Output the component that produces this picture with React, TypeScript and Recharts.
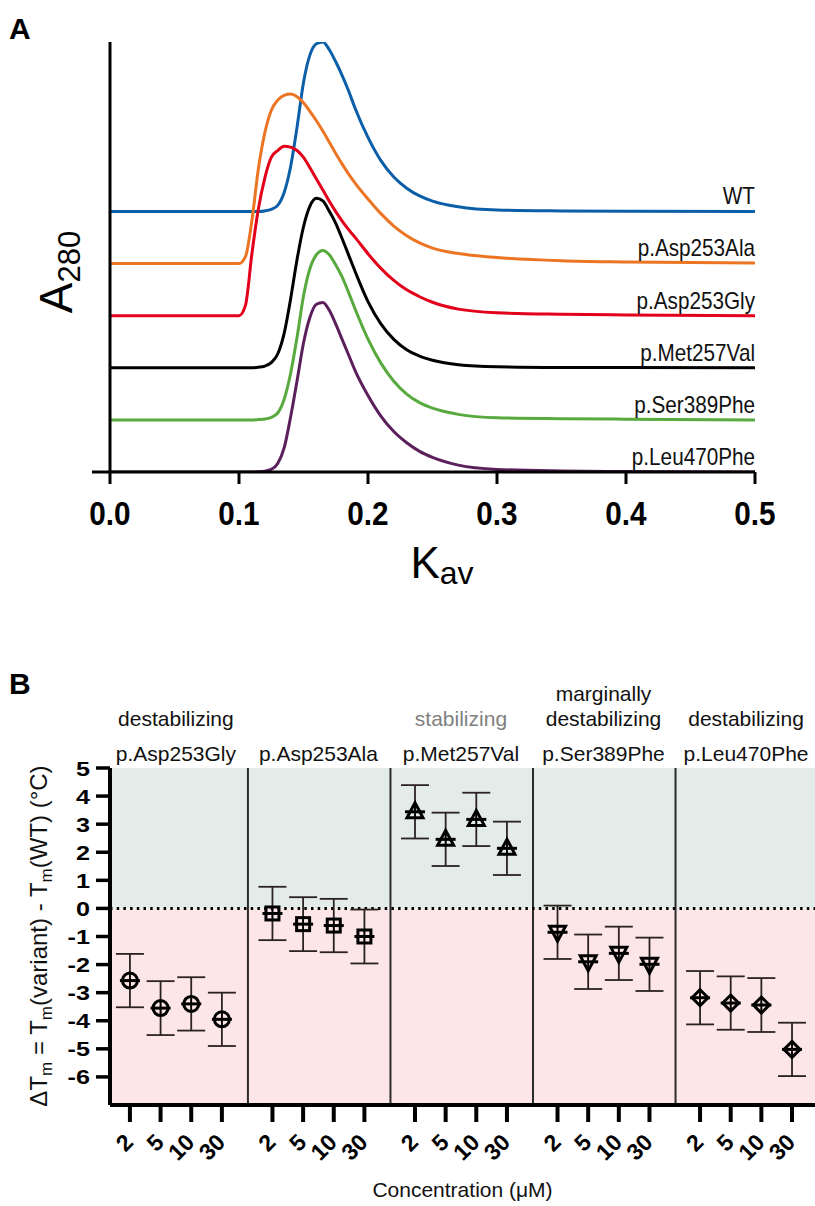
import React from "react";
import {
  LineChart,
  Line,
  XAxis,
  YAxis,
  ScatterChart,
  Scatter,
  ErrorBar,
  ReferenceArea,
  ReferenceLine,
  Label,
} from "recharts";

const FONT = "'Liberation Sans', Arial, Helvetica, sans-serif";

// ---------------- Panel A data (normalised A280 traces vs Kav) ----------------
const kavValues = [
  0, 0.05, 0.1, 0.105, 0.11, 0.115, 0.12, 0.125, 0.13, 0.135, 0.14, 0.145, 0.15,
  0.155, 0.16, 0.165, 0.17, 0.175, 0.18, 0.185, 0.19, 0.2, 0.21, 0.22, 0.23, 0.24,
  0.25, 0.27, 0.3, 0.35, 0.4, 0.5,
];
const wtTrace = [
  0, 0, 0, 0, 0, 0, 0.003, 0.012, 0.035, 0.11, 0.26, 0.49, 0.75, 0.91, 0.975, 0.985,
  0.94, 0.87, 0.79, 0.7, 0.6, 0.43, 0.295, 0.2, 0.135, 0.09, 0.06, 0.027, 0.008,
  0.003, 0.001, 0,
];
const asp253AlaTrace = [
  0, 0, 0, 0.04, 0.25, 0.55, 0.76, 0.89, 0.95, 0.978, 0.985, 0.97, 0.935, 0.885,
  0.83, 0.77, 0.705, 0.64, 0.578, 0.52, 0.468, 0.375, 0.29, 0.218, 0.162, 0.12, 0.09,
  0.058, 0.035, 0.016, 0.009, 0.003,
];
const asp253GlyTrace = [
  0, 0, 0, 0.06, 0.36, 0.62, 0.8, 0.92, 0.96, 0.985, 0.98, 0.96, 0.92, 0.86, 0.795,
  0.73, 0.665, 0.605, 0.55, 0.5, 0.455, 0.36, 0.275, 0.205, 0.15, 0.11, 0.078, 0.038,
  0.017, 0.008, 0.004, 0,
];
const met257ValTrace = [
  0, 0, 0, 0, 0, 0.003, 0.01, 0.03, 0.08, 0.2, 0.4, 0.63, 0.82, 0.94, 0.985, 0.97,
  0.91, 0.84, 0.75, 0.655, 0.56, 0.385, 0.255, 0.165, 0.105, 0.068, 0.044, 0.018,
  0.006, 0.002, 0.001, 0,
];
const ser389PheTrace = [
  0, 0, 0, 0, 0, 0.002, 0.005, 0.015, 0.04, 0.12, 0.27, 0.48, 0.72, 0.88, 0.96,
  0.985, 0.96, 0.9, 0.83, 0.74, 0.645, 0.47, 0.33, 0.225, 0.15, 0.1, 0.068, 0.032,
  0.012, 0.007, 0.004, 0,
];
const leu470PheTrace = [
  0, 0, 0, 0, 0, 0.002, 0.005, 0.015, 0.05, 0.14, 0.32, 0.53, 0.75, 0.9, 0.975,
  0.985, 0.94, 0.86, 0.77, 0.68, 0.59, 0.445, 0.325, 0.235, 0.17, 0.12, 0.085, 0.04,
  0.015, 0.006, 0.003, 0,
];
const traceNames = [
  "WT",
  "p.Asp253Ala",
  "p.Asp253Gly",
  "p.Met257Val",
  "p.Ser389Phe",
  "p.Leu470Phe",
];
const traceColors = ["#0b5ea8", "#ec7524", "#e2001a", "#000000", "#58aa3e", "#5b1f5c"];
const traceOffsets = [1.515, 1.212, 0.909, 0.606, 0.303, 0];
const kavTicks = [0, 0.1, 0.2, 0.3, 0.4, 0.5];

const traces = [
  wtTrace,
  asp253AlaTrace,
  asp253GlyTrace,
  met257ValTrace,
  ser389PheTrace,
  leu470PheTrace,
];

const chartAData = kavValues.map((k, i) => {
  const row: Record<string, number> = { kav: k };
  traces.forEach((t, j) => {
    row["s" + j] = t[i] + traceOffsets[j];
  });
  return row;
});

// ---------------- Panel B data (ΔTm vs concentration) ----------------
const variantNames = [
  "p.Asp253Gly",
  "p.Asp253Ala",
  "p.Met257Val",
  "p.Ser389Phe",
  "p.Leu470Phe",
];
const effectLabels = [
  ["destabilizing"],
  [],
  ["stabilizing"],
  ["marginally", "destabilizing"],
  ["destabilizing"],
];
const concentrationLabels = ["2", "5", "10", "30"];
const asp253GlyMean = [-2.57, -3.55, -3.4, -3.95];
const asp253GlyErr = [0.95, 0.96, 0.95, 0.95];
const asp253AlaMean = [-0.18, -0.56, -0.61, -1.0];
const asp253AlaErr = [0.95, 0.96, 0.95, 0.96];
const met257ValMean = [3.44, 2.46, 3.17, 2.14];
const met257ValErr = [0.95, 0.95, 0.95, 0.95];
const ser389PheMean = [-0.85, -1.9, -1.6, -1.99];
const ser389PheErr = [0.95, 0.97, 0.95, 0.95];
const leu470PheMean = [-3.18, -3.37, -3.44, -5.02];
const leu470PheErr = [0.95, 0.95, 0.96, 0.95];
const dTmTicks = [5, 4, 3, 2, 1, 0, -1, -2, -3, -4, -5, -6];

const groupMeans = [asp253GlyMean, asp253AlaMean, met257ValMean, ser389PheMean, leu470PheMean];
const groupErrs = [asp253GlyErr, asp253AlaErr, met257ValErr, ser389PheErr, leu470PheErr];
const markerKinds = ["circle", "square", "up", "down", "diamond"];

// layout of the grouped categorical x axis (in units of one concentration slot)
const GROUP_SPAN = 4.65;
const FIRST_SLOT = 0.65;
const X_MAX = 23;

const groupData = groupMeans.map((means, gi) =>
  means.map((m, ci) => ({
    x: gi * GROUP_SPAN + FIRST_SLOT + ci,
    y: m,
    err: groupErrs[gi][ci],
  }))
);
const bottomTicks = groupData.flat().map((d) => d.x);
const groupCenters = variantNames.map((_, gi) => gi * GROUP_SPAN + FIRST_SLOT + 1.5);
const dividers = variantNames.slice(1).map((_, i) => (i + 1) * GROUP_SPAN - 0.15);

// ---------------- sizes ----------------
const A_W = 815;
const A_H = 600;
const A_PLOT_BOTTOM = 472;
const B_W = 815;
const B_H = 606;
const B_PLOT_TOP = 168;
const B_PLOT_BOTTOM = 505;

const Marker = (props: any) => {
  const { cx, cy, kind } = props;
  if (cx == null || cy == null) return <g />;
  const s = { stroke: "#000", strokeWidth: 3, fill: "none" };
  let body: React.ReactNode = null;
  if (kind === "circle") body = <circle cx={cx} cy={cy} r={7.5} {...s} />;
  else if (kind === "square")
    body = <rect x={cx - 6.5} y={cy - 6.5} width={13} height={13} {...s} />;
  else if (kind === "up")
    body = (
      <polygon points={`${cx},${cy - 9} ${cx + 8},${cy + 6} ${cx - 8},${cy + 6}`} {...s} />
    );
  else if (kind === "down")
    body = (
      <polygon points={`${cx},${cy + 9} ${cx + 8},${cy - 6} ${cx - 8},${cy - 6}`} {...s} />
    );
  else
    body = (
      <polygon
        points={`${cx},${cy - 8} ${cx + 8},${cy} ${cx},${cy + 8} ${cx - 8},${cy}`}
        {...s}
      />
    );
  return (
    <g>
      {body}
      <line x1={cx - 10} x2={cx + 10} y1={cy} y2={cy} stroke="#000" strokeWidth={3} />
      <line x1={cx} x2={cx} y1={cy - 7} y2={cy + 7} stroke="#000" strokeWidth={1.6} />
    </g>
  );
};

const GroupLabel = (props: any) => {
  const { viewBox, gi } = props;
  const x = viewBox ? viewBox.x : 0;
  const effects = effectLabels[gi] || [];
  return (
    <g>
      {effects.map((t, k) => (
        <text
          key={k}
          x={x}
          y={B_PLOT_TOP - 42 - (effects.length - 1 - k) * 25}
          textAnchor="middle"
          fontSize={21}
          fontFamily={FONT}
          fill={t === "stabilizing" ? "#808080" : "#111"}
        >
          {t}
        </text>
      ))}
      <text
        x={x}
        y={B_PLOT_TOP - 7}
        textAnchor="middle"
        fontSize={21}
        fontFamily={FONT}
        fill="#111"
      >
        {variantNames[gi]}
      </text>
    </g>
  );
};

const KavTick = (props: any) => {
  const { x, payload } = props;
  const y = A_PLOT_BOTTOM + 53;
  return (
    <text
      transform={`translate(${x}, ${y}) scale(0.9, 1)`}
      textAnchor="middle"
      fontSize={33}
      fontWeight="bold"
      fontFamily={FONT}
      fill="#000"
    >
      {Number(payload.value).toFixed(1)}
    </text>
  );
};

const DTmTick = (props: any) => {
  const { x, y, payload } = props;
  return (
    <text
      transform={`translate(${x}, ${y}) scale(1.2, 1)`}
      textAnchor="end"
      dy="0.36em"
      fontSize={21}
      fontWeight="bold"
      fontFamily={FONT}
      fill="#000"
    >
      {payload.value}
    </text>
  );
};

const ConcTick = (props: any) => {
  const { x, index } = props;
  const label = concentrationLabels[index % concentrationLabels.length];
  const ax = x - 1;
  const ay = B_PLOT_BOTTOM + 33;
  return (
    <text
      x={ax}
      y={ay}
      transform={`rotate(-45, ${ax}, ${ay})`}
      textAnchor="end"
      dominantBaseline="central"
      fontSize={23}
      fontWeight="bold"
      fontFamily={FONT}
      fill="#000"
    >
      {label}
    </text>
  );
};

const ChartA = () => (
  <LineChart
    width={A_W}
    height={A_H}
    data={chartAData}
    margin={{ top: 42, right: 60, bottom: 0, left: 0 }}
  >
    <XAxis
      dataKey="kav"
      type="number"
      domain={[0, 0.5]}
      ticks={kavTicks}
      interval={0}
      height={A_H - 42 - (A_PLOT_BOTTOM - 42)}
      tickSize={12}
      axisLine={{ stroke: "#000", strokeWidth: 3 }}
      tickLine={{ stroke: "#000", strokeWidth: 3 }}
      tick={<KavTick />}
    >
      <Label
        content={() => (
          <text x={442} y={578} textAnchor="middle" fontFamily={FONT} fill="#000">
            <tspan fontSize={44}>K</tspan>
            <tspan fontSize={32} dy={6}>
              av
            </tspan>
          </text>
        )}
      />
    </XAxis>
    <YAxis
      type="number"
      domain={[0, 2.5]}
      allowDataOverflow
      width={110}
      tick={false}
      tickLine={false}
      axisLine={{ stroke: "#000", strokeWidth: 3 }}
    >
      <Label
        content={() => (
          <text
            x={72}
            y={272}
            transform="rotate(-90, 72, 272)"
            textAnchor="middle"
            fontFamily={FONT}
            fill="#000"
          >
            <tspan fontSize={46}>A</tspan>
            <tspan fontSize={31} dy={8}>
              280
            </tspan>
          </text>
        )}
      />
    </YAxis>
    <ReferenceLine
      segment={[
        { x: -0.014, y: 0 },
        { x: 0, y: 0 },
      ]}
      stroke="#000"
      strokeWidth={3}
      ifOverflow="visible"
    />
    {traceNames.map((name, j) => (
      <Line
        key={name}
        dataKey={"s" + j}
        type="monotone"
        stroke={traceColors[j]}
        strokeWidth={3}
        dot={false}
        isAnimationActive={false}
        label={(p: any) =>
          p.index === kavValues.length - 1 ? (
            <text
              key={"lab" + j}
              transform={`translate(${p.x}, ${p.y - 7}) scale(0.9, 1)`}
              textAnchor="end"
              fontSize={23}
              fontFamily={FONT}
              fill="#111"
            >
              {name}
            </text>
          ) : (
            <g key={"e" + j + "_" + p.index} />
          )
        }
      />
    ))}
  </LineChart>
);

const ChartB = () => (
  <ScatterChart
    width={B_W}
    height={B_H}
    margin={{ top: B_PLOT_TOP, right: 0, bottom: 0, left: 0 }}
  >
    <XAxis
      dataKey="x"
      type="number"
      domain={[0, X_MAX]}
      ticks={bottomTicks}
      interval={0}
      height={B_H - B_PLOT_BOTTOM}
      tickSize={17}
      axisLine={{ stroke: "#000", strokeWidth: 4 }}
      tickLine={{ stroke: "#000", strokeWidth: 4 }}
      tick={<ConcTick />}
    >
      <Label
        content={() => (
          <text
            x={462.5}
            y={597}
            textAnchor="middle"
            fontSize={21}
            fontFamily={FONT}
            fill="#111"
          >
            Concentration (μM)
          </text>
        )}
      />
    </XAxis>
    <YAxis
      dataKey="y"
      type="number"
      domain={[-7, 5]}
      ticks={dTmTicks}
      interval={0}
      width={110}
      tickSize={14}
      tickMargin={6}
      axisLine={{ stroke: "#000", strokeWidth: 4 }}
      tickLine={{ stroke: "#000", strokeWidth: 3.5 }}
      tick={<DTmTick />}
    >
      <Label
        content={() => (
          <text
            x={47}
            y={336}
            transform="rotate(-90, 47, 336)"
            textAnchor="middle"
            fontSize={24}
            fontFamily={FONT}
            fill="#111"
          >
            <tspan>ΔT</tspan>
            <tspan fontSize={17} dy={5}>
              m
            </tspan>
            <tspan dy={-5}> = T</tspan>
            <tspan fontSize={17} dy={5}>
              m
            </tspan>
            <tspan dy={-5}>(variant) - T</tspan>
            <tspan fontSize={17} dy={5}>
              m
            </tspan>
            <tspan dy={-5}>(WT) (°C)</tspan>
          </text>
        )}
      />
    </YAxis>
    <ReferenceArea y1={0} y2={5} fill="#e3ece9" fillOpacity={1} stroke="none" />
    <ReferenceArea y1={-7} y2={0} fill="#fde6e7" fillOpacity={1} stroke="none" />
    {dividers.map((d) => (
      <ReferenceLine key={d} x={d} stroke="#2b2b2b" strokeWidth={2} />
    ))}
    {groupCenters.map((c, gi) => (
      <ReferenceLine
        key={"g" + gi}
        x={c}
        stroke="none"
        strokeWidth={0}
        label={(p: any) => <GroupLabel {...p} gi={gi} />}
      />
    ))}
    <ReferenceLine y={0} stroke="#000" strokeWidth={3} strokeDasharray="2.5 4.2" />
    {groupData.map((data, gi) => (
      <Scatter
        key={gi}
        data={data}
        isAnimationActive={false}
        shape={(p: any) => <Marker {...p} kind={markerKinds[gi]} />}
      >
        <ErrorBar
          dataKey="err"
          direction="y"
          width={14}
          stroke="#2b2222"
          strokeWidth={1.8}
          isAnimationActive={false}
        />
      </Scatter>
    ))}
  </ScatterChart>
);

export default function App() {
  return (
    <div
      style={{
        position: "absolute",
        left: 0,
        top: 0,
        width: 815,
        height: 1206,
        background: "#fff",
        overflow: "hidden",
      }}
    >
      <div style={{ position: "absolute", left: 0, top: 0 }}>
        <ChartA />
      </div>
      <div style={{ position: "absolute", left: 0, top: 600 }}>
        <ChartB />
      </div>
      <svg
        width={815}
        height={1206}
        style={{ position: "absolute", left: 0, top: 0, pointerEvents: "none" }}
      >
        <text x={9} y={39} fontSize={30} fontWeight="bold" fontFamily={FONT} fill="#000">
          A
        </text>
        <text x={9} y={694} fontSize={30} fontWeight="bold" fontFamily={FONT} fill="#000">
          B
        </text>
      </svg>
    </div>
  );
}
